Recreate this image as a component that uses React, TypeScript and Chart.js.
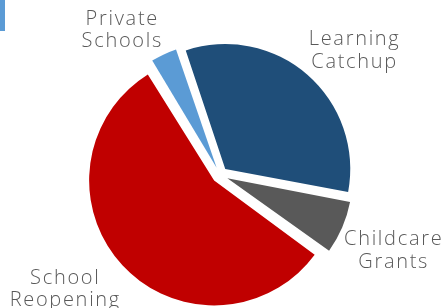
import React, { useEffect, useRef } from "react";
import { Chart, registerables } from "chart.js";

Chart.register(...registerables);

const categories = ["Learning Catchup", "Childcare Grants", "School Reopening", "Private Schools"];
const shares = [33.1, 7, 56.3, 3.6];
const colors = ["#1F4E79", "#595959", "#C00000", "#5B9BD5"];

const PIE_RADIUS = 125;
const EXPLODE = 32; // Chart.js divides arc offset by 4 when drawing

// Chart.js grows wide arcs by their offset; keep every slice at the same drawn radius.
const equalRadiusPlugin = {
  id: "equalRadius",
  beforeDatasetsDraw(chart: any) {
    const meta = chart.getDatasetMeta(0);
    meta.data.forEach((arc: any) => {
      const c = arc.circumference;
      const fix = 1 - Math.sin(Math.min(Math.PI, c || 0));
      arc.outerRadius = PIE_RADIUS - (EXPLODE / 4) * fix;
    });
  },
};

const labelPlugin = {
  id: "outerLabels",
  afterDatasetsDraw(chart: any) {
    const ctx = chart.ctx;
    const meta = chart.getDatasetMeta(0);
    ctx.save();
    ctx.fillStyle = "#595959";
    ctx.font = "300 20px 'Open Sans'";
    try { (ctx as any).letterSpacing = "1.7px"; } catch (e) {}
    ctx.textAlign = "center";
    ctx.textBaseline = "middle";
    const lh = 22.5;
    meta.data.forEach((arc: any, i: number) => {
      const p = arc.getProps(["x", "y", "startAngle", "endAngle"], true);
      const mid = (p.startAngle + p.endAngle) / 2;
      const d = PIE_RADIUS + 10;
      const ux = Math.cos(mid);
      const uy = Math.sin(mid);
      const lines = String(chart.data.labels[i]).split(" ");
      const w = Math.max(...lines.map((l: string) => ctx.measureText(l).width));
      const h = lines.length * lh;
      const cx = p.x + ux * d + Math.sign(ux) * w / 2;
      const cy = p.y + uy * d + Math.sign(uy) * h / 2;
      lines.forEach((ln: string, k: number) => {
        ctx.fillText(ln, cx, cy + (k - (lines.length - 1) / 2) * lh);
      });
    });
    ctx.restore();
  },
};

export default function App() {
  const ref = useRef<HTMLCanvasElement>(null);
  useEffect(() => {
    const chart = new Chart(ref.current!, {
      type: "pie",
      data: {
        labels: categories,
        datasets: [
          {
            data: shares,
            backgroundColor: colors,
            borderWidth: 0,
            offset: EXPLODE,
          },
        ],
      },
      options: {
        responsive: false,
        animation: false,
        rotation: -18.5,
        radius: PIE_RADIUS,
        layout: { padding: { left: 0, right: 8, top: 42, bottom: 0 } },
        plugins: { legend: { display: false }, tooltip: { enabled: false } },
      },
      plugins: [equalRadiusPlugin, labelPlugin],
    });
    return () => chart.destroy();
  }, []);
  return (
    <div style={{ position: "fixed", left: 0, top: 0, width: 448, height: 308, background: "#fff" }}>
      <div style={{ position: "absolute", left: 0, top: 0, width: 5, height: 31, background: "#5B9BD5" }} />
      <canvas ref={ref} width={448} height={308} style={{ position: "absolute", left: 0, top: 0 }} />
    </div>
  );
}
